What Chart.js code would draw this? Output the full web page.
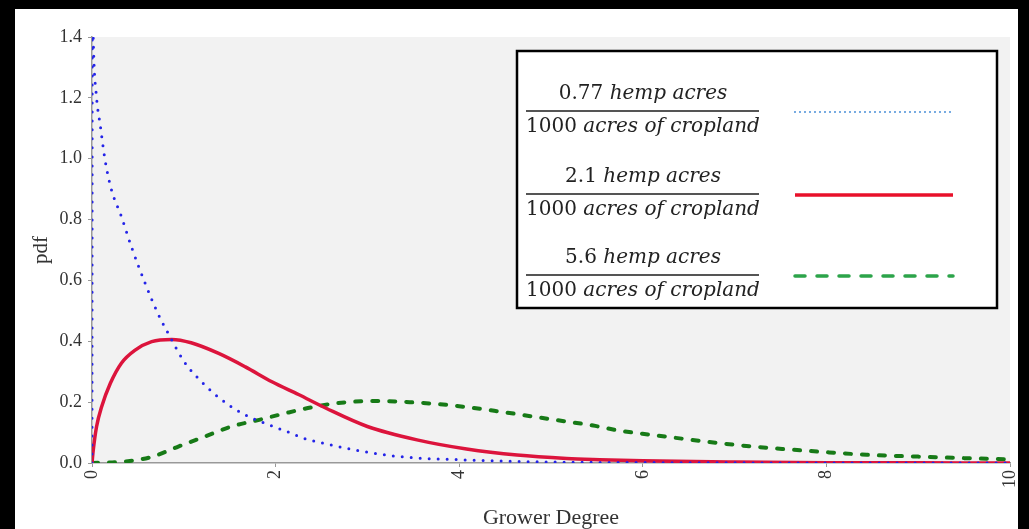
<!DOCTYPE html>
<html>
<head>
<meta charset="utf-8">
<script src="https://cdn.jsdelivr.net/npm/chart.js@4"></script>
<style>
    html, body { margin: 0; padding: 0; background: #000; }
    .frame {
        position: absolute;
        left: 15px;
        top: 9px;
        width: 1003px;
        height: 520px;
        background: #fff;
    }
    canvas { display: block; }
</style>
</head>
<body>
<div class="frame"><canvas id="pdfChart" width="1003" height="520"></canvas></div>
<script>
// Values
const blueX = [0, 0.003, 0.014, 0.05, 0.09, 0.14, 0.21, 0.32, 0.43, 0.58, 0.72, 0.85, 1.0, 1.12, 1.37, 1.63, 1.88, 2.17, 2.3, 2.61, 2.81, 3.35, 4.08, 4.8, 5.5, 6.5, 8, 10];
const blueY = [0, 1.6, 1.39, 1.2, 1.11, 1.0, 0.9, 0.81, 0.71, 0.59, 0.49, 0.415, 0.335, 0.29, 0.218, 0.164, 0.131, 0.098, 0.082, 0.059, 0.046, 0.021, 0.01, 0.004, 0.002, 0.001, 0, 0];

const redX = [0, 0.014, 0.05, 0.105, 0.2, 0.32, 0.47, 0.65, 0.87, 1.08, 1.38, 1.67, 1.96, 2.25, 2.55, 3.0, 3.54, 4.08, 4.63, 5.17, 5.53, 6, 7, 8, 9, 10];
const redY = [0, 0.043, 0.12, 0.185, 0.262, 0.328, 0.371, 0.399, 0.406, 0.395, 0.36, 0.316, 0.267, 0.225, 0.18, 0.12, 0.076, 0.046, 0.026, 0.015, 0.011, 0.007, 0.003, 0.001, 0.0005, 0];

const greenX = [0, 0.36, 0.65, 0.94, 1.23, 1.52, 1.81, 2.1, 2.39, 2.65, 3.1, 3.46, 3.9, 4.44, 4.99, 5.46, 5.75, 6.11, 6.48, 6.84, 7.2, 7.57, 7.93, 8.44, 9.0, 9.5, 10];
const greenY = [0, 0.005, 0.02, 0.054, 0.087, 0.12, 0.141, 0.163, 0.183, 0.196, 0.204, 0.2, 0.19, 0.169, 0.144, 0.123, 0.106, 0.092, 0.078, 0.065, 0.054, 0.045, 0.037, 0.027, 0.021, 0.016, 0.012];

const hempAcres = ['0.77', '2.1', '5.6'];
const numeratorUnit = 'hemp acres';
const denominatorNumber = '1000';
const denominatorUnit = 'acres of cropland';

const xTicks = [0, 2, 4, 6, 8, 10];
const yTicks = [0, 0.2, 0.4, 0.6, 0.8, 1.0, 1.2, 1.4];

const toPoints = (xs, ys) => xs.map((x, i) => ({ x: x, y: ys[i] }));

// grey plot area
const plotBackground = {
    id: 'plotBackground',
    beforeDraw(chart) {
        const { ctx, chartArea: a } = chart;
        ctx.save();
        ctx.fillStyle = '#f2f2f2';
        ctx.fillRect(a.left, a.top, a.right - a.left, a.bottom - a.top);
        ctx.restore();
    }
};

// boxed legend with fraction labels
const fractionLegend = {
    id: 'fractionLegend',
    afterDraw(chart) {
        const ctx = chart.ctx;
        const box = { left: 502, top: 42, right: 982, bottom: 299 };
        const rows = [102, 185, 266];
        const textCenter = 628;
        const barLeft = 511, barRight = 744;
        const sampleLeft = 780, sampleRight = 938;
        const upright = '20px "DejaVu Serif"';
        const italic = 'italic 20px "DejaVu Serif"';

        ctx.save();
        ctx.fillStyle = '#fff';
        ctx.fillRect(box.left, box.top, box.right - box.left, box.bottom - box.top);
        ctx.strokeStyle = '#000';
        ctx.lineWidth = 2.5;
        ctx.strokeRect(box.left, box.top, box.right - box.left, box.bottom - box.top);

        const drawMixed = (num, unit, y) => {
            ctx.font = upright;
            const w1 = ctx.measureText(num + ' ').width;
            ctx.font = italic;
            const w2 = ctx.measureText(unit).width;
            const x = textCenter - (w1 + w2) / 2;
            ctx.textBaseline = 'middle';
            ctx.textAlign = 'left';
            ctx.fillStyle = '#222';
            ctx.font = upright;
            ctx.fillText(num + ' ', x, y);
            ctx.font = italic;
            ctx.fillText(unit, x + w1, y);
        };

        chart.data.datasets.forEach((ds, i) => {
            const y = rows[i];
            drawMixed(hempAcres[i], numeratorUnit, y - 17);
            ctx.fillStyle = '#555';
            ctx.fillRect(barLeft, y - 1, barRight - barLeft, 2);
            drawMixed(denominatorNumber, denominatorUnit, y + 16);

            ctx.beginPath();
            ctx.strokeStyle = ds.legendColor;
            ctx.lineWidth = ds.legendWidth;
            ctx.lineCap = ds.borderCapStyle || 'butt';
            ctx.setLineDash(ds.legendDash);
            ctx.moveTo(sampleLeft, y + 1);
            ctx.lineTo(sampleRight, y + 1);
            ctx.stroke();
        });
        ctx.restore();
    }
};

const tickFont = { family: '"Liberation Serif", serif', size: 18 };
const titleFont = { family: '"Liberation Serif", serif', size: 22, lineHeight: 1 };

new Chart(document.getElementById('pdfChart'), {
    type: 'line',
    data: {
        datasets: [{
            label: hempAcres[0] + ' ' + numeratorUnit + ' / ' + denominatorNumber + ' ' + denominatorUnit,
            data: toPoints(blueX, blueY),
            borderColor: '#2424e8',
            borderWidth: 3,
            borderDash: [0, 9],
            borderCapStyle: 'round',
            legendColor: '#4a8fd8',
            legendWidth: 2,
            legendDash: [0, 5]
        }, {
            label: hempAcres[1] + ' ' + numeratorUnit + ' / ' + denominatorNumber + ' ' + denominatorUnit,
            data: toPoints(redX, redY),
            borderColor: '#dc143c',
            borderWidth: 3.5,
            legendColor: '#e8102a',
            legendWidth: 3.5,
            legendDash: []
        }, {
            label: hempAcres[2] + ' ' + numeratorUnit + ' / ' + denominatorNumber + ' ' + denominatorUnit,
            data: toPoints(greenX, greenY),
            borderColor: '#177a17',
            borderWidth: 4,
            borderDash: [6, 11],
            borderCapStyle: 'round',
            legendColor: '#2ca44a',
            legendWidth: 3.5,
            legendDash: [10, 12]
        }]
    },
    options: {
        responsive: false,
        animation: false,
        events: [],
        layout: { padding: { top: 28, right: 8, left: 0, bottom: 0 } },
        elements: {
            point: { radius: 0 },
            line: { cubicInterpolationMode: 'monotone', fill: false }
        },
        plugins: {
            legend: { display: false },
            tooltip: { enabled: false }
        },
        scales: {
            x: {
                type: 'linear',
                min: 0,
                max: 10,
                afterFit: (scale) => {
                    scale.height = 66;
                    scale.paddingLeft = 0;
                    scale.paddingRight = 0;
                },
                afterBuildTicks: (scale) => { scale.ticks = xTicks.map(v => ({ value: v })); },
                border: { color: '#999', width: 1.5 },
                grid: { drawOnChartArea: false, drawTicks: true, tickLength: 4, color: '#999' },
                ticks: {
                    minRotation: 90,
                    maxRotation: 90,
                    padding: 3,
                    color: '#333',
                    font: tickFont,
                    callback: (v) => String(v)
                },
                title: {
                    display: true,
                    text: 'Grower Degree',
                    color: '#333',
                    font: titleFont,
                    padding: { top: 0, bottom: 0 }
                }
            },
            y: {
                type: 'linear',
                min: 0,
                max: 1.4,
                afterFit: (scale) => { scale.width = 77; },
                afterBuildTicks: (scale) => { scale.ticks = yTicks.map(v => ({ value: v })); },
                border: { color: '#999', width: 1.5 },
                grid: { drawOnChartArea: false, drawTicks: true, tickLength: 4, color: '#999' },
                ticks: {
                    padding: 6,
                    color: '#333',
                    font: tickFont,
                    callback: (v) => Number(v).toFixed(1)
                },
                title: {
                    display: true,
                    text: 'pdf',
                    color: '#333',
                    font: { family: '"Liberation Serif", serif', size: 21 },
                    padding: { top: 14, bottom: 0 }
                }
            }
        }
    },
    plugins: [plotBackground, fractionLegend]
});
</script>
</body>
</html>
